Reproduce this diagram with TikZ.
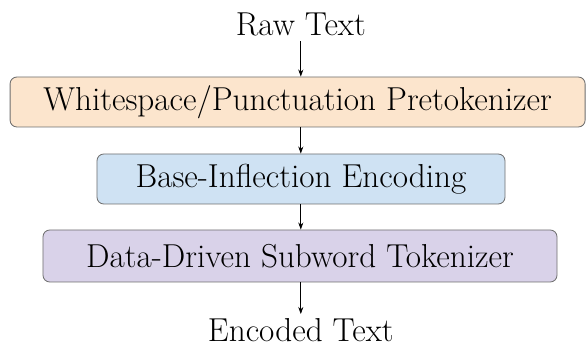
\documentclass[tikz,border=0pt]{standalone}
\usepackage{tikz}
\usetikzlibrary{arrows.meta}
\definecolor{peach}{HTML}{FCE5CD}
\definecolor{paleblue}{HTML}{CFE2F3}
\definecolor{lavender}{HTML}{D9D2E9}
\definecolor{edgegray}{HTML}{6E6E6E}
\tikzstyle{stage} = [draw=edgegray, line width=0.6pt, rounded corners=0.17cm, minimum height=1.25cm, inner sep=0pt, font=\fontsize{23.6}{28}\selectfont]
\tikzstyle{io} = [anchor=base, font=\fontsize{23.6}{28}\selectfont]
\tikzstyle{flow} = [-{Stealth[length=5pt,width=3.6pt]}, line width=0.5pt]

\begin{document}
\begin{tikzpicture}
  \useasboundingbox (0,0) rectangle (14.65,-8.725);
  \node (raw) at (7.52,-0.9) [io] {Raw Text};
  \node (pre) at (7.44,-2.55) [stage, fill=peach, minimum width=14.375cm] {Whitespace/Punctuation Pretokenizer};
  \node (bie) at (7.525,-4.475) [stage, fill=paleblue, minimum width=10.2cm] {Base-Inflection Encoding};
  \node (dds) at (7.5,-6.4) [stage, fill=lavender, minimum width=12.85cm, minimum height=1.3cm] {Data-Driven Subword Tokenizer};
  \node (enc) at (7.52,-8.55) [io] {Encoded Text};
  \draw [flow] (raw.south) to (raw.south |- pre.north);
  \draw [flow] (raw.south |- pre.south) to (raw.south |- bie.north);
  \draw [flow] (raw.south |- bie.south) to (raw.south |- dds.north);
  \draw [flow] (raw.south |- dds.south) to (raw.south |- enc.north);
\end{tikzpicture}
\end{document}
